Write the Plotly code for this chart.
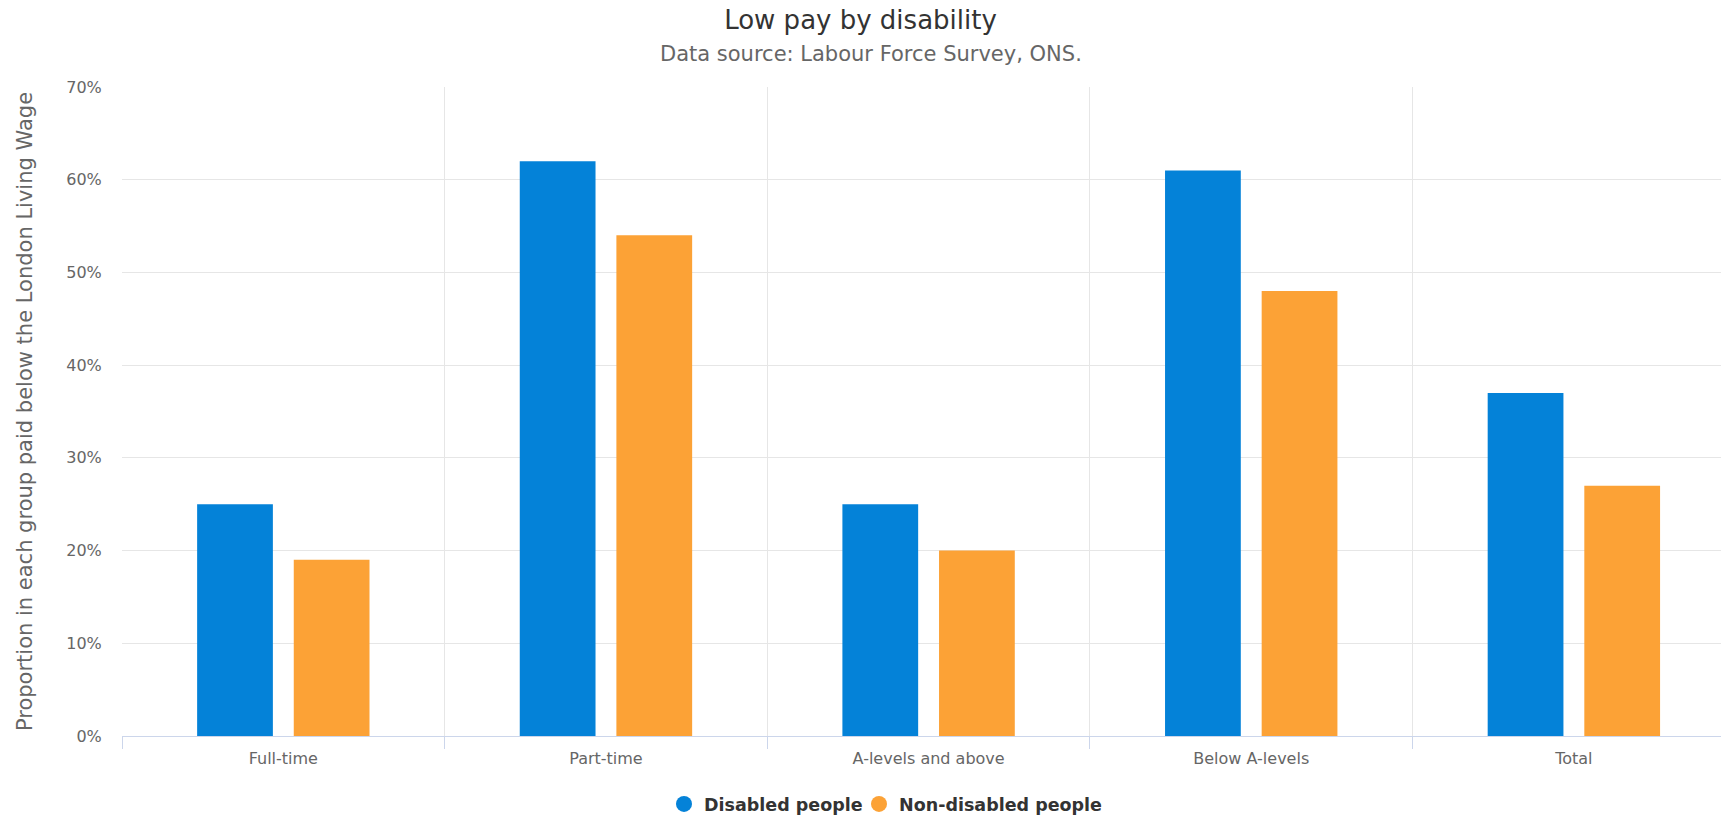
import plotly.graph_objects as go

categories = ["Full-time", "Part-time", "A-levels and above", "Below A-levels", "Total"]
disabled = [25, 62, 25, 61, 37]
non_disabled = [19, 54, 20, 48, 27]
series_names = ["Disabled people", "Non-disabled people"]
y_ticks = [0, 10, 20, 30, 40, 50, 60, 70]
y_tick_labels = [f"{v}%" for v in y_ticks]

BLUE = "#0482d8"
ORANGE = "#fca236"
FONT = "DejaVu Sans"

fig = go.Figure()
for name, vals, col, lg in [(series_names[0], disabled, BLUE, "legend"),
                            (series_names[1], non_disabled, ORANGE, "legend2")]:
    fig.add_trace(go.Bar(x=categories, y=vals, name=name, marker=dict(color=col, line=dict(width=0)),
                         showlegend=False, hovertemplate="%{x}: %{y}%<extra>" + name + "</extra>"))
    fig.add_trace(go.Scatter(x=[None], y=[None], mode="markers", name=name, legend=lg,
                             marker=dict(color=col, size=16, symbol="circle"), showlegend=True))

legend_common = dict(orientation="h", xanchor="left", yref="container",
                     y=1 - 804 / 816, yanchor="middle",
                     font=dict(family=FONT, size=17.5, color="#333333", weight="bold"),
                     itemsizing="trace", itemwidth=30, bgcolor="rgba(0,0,0,0)")

fig.update_layout(
    width=1721, height=816,
    margin=dict(l=122, r=0, t=87, b=80),
    paper_bgcolor="white", plot_bgcolor="white",
    font=dict(family=FONT, color="#666666", size=16),
    barmode="group", bargap=0.401, bargroupgap=0.216,
    title=dict(text="Low pay by disability", x=0.5, xref="container", xanchor="center",
               y=1 - 20 / 816, yref="container", yanchor="middle",
               font=dict(family=FONT, size=26, color="#333333")),
    annotations=[dict(text="Data source: Labour Force Survey, ONS.", xref="paper", yref="paper",
                      x=(871 - 122) / 1599, y=(736.5 - 54) / 649.5, xanchor="center", yanchor="middle",
                      showarrow=False, font=dict(family=FONT, size=21, color="#666666"))],
    legend=dict(x=(664 - 122) / 1599, **legend_common),
    legend2=dict(x=(859 - 122) / 1599, **legend_common),
    xaxis=dict(type="category", range=[-0.5, 4.456], tickson="boundaries",
               showgrid=True, gridcolor="#e6e6e6", gridwidth=1,
               showline=True, linecolor="#ccd6eb", linewidth=1,
               ticks="outside", ticklen=12, tickcolor="#ccd6eb", ticklabelstandoff=8,
               tickfont=dict(family=FONT, size=16, color="#666666"), zeroline=False),
    yaxis=dict(range=[0, 70], tickvals=y_ticks, ticktext=y_tick_labels,
               showgrid=True, gridcolor="#e6e6e6", gridwidth=1, zeroline=False, showline=False,
               ticks="outside", ticklen=16, tickcolor="rgba(0,0,0,0)",
               tickfont=dict(family=FONT, size=16, color="#666666"),
               title=dict(text="Proportion in each group paid below the London Living Wage",
                          standoff=27, font=dict(family=FONT, size=21, color="#666666"))),
)

fig.write_html("out.html", config={"displayModeBar": False},
               post_script="document.body.style.margin='0';document.body.style.overflow='hidden';")
